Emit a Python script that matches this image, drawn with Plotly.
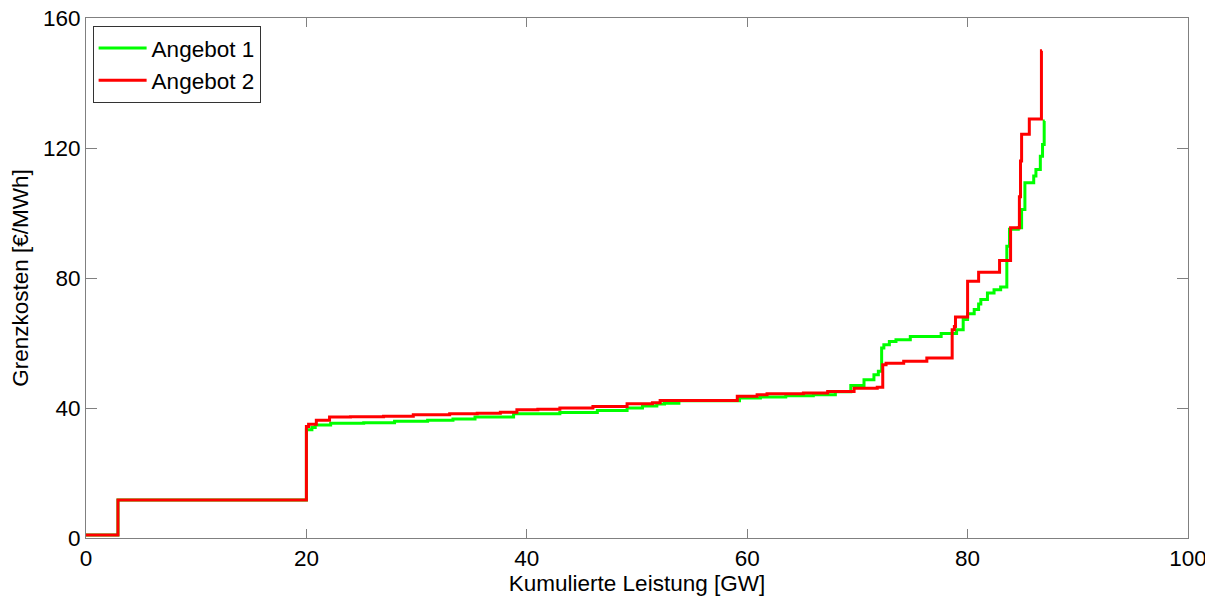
import plotly.graph_objects as go

# Angebot 1 (green) step curve: cumulative capacity [GW] and marginal cost [€/MWh]
a1_x = [0, 2.9, 20.0, 20.5, 20.8, 22.2, 25.2, 28.0, 31.0, 33.3, 35.3, 38.8, 43.0, 46.4,
        49.1, 50.5, 51.8, 52.5, 53.8, 59.3, 61.2, 63.5, 66.0, 68.0, 69.4, 70.6, 71.5,
        71.9, 72.2, 72.4, 72.9, 73.5, 74.8, 77.6, 79.0, 79.6, 80.0, 80.6, 81.0, 81.2,
        81.8, 82.4, 83.0, 83.56, 83.8, 84.6, 84.9, 85.2, 86.0, 86.2, 86.6, 86.8, 86.95, 87.0]
a1_y = [0.9, 11.7, 33.3, 34.0, 34.8, 35.3, 35.5, 35.9, 36.2, 36.6, 37.2, 38.2, 38.6, 39.2,
        40.0, 40.6, 41.2, 41.5, 42.2, 43.1, 43.4, 43.8, 44.1, 45.0, 46.9, 48.7, 50.2,
        51.3, 58.5, 59.5, 60.5, 61.0, 62.0, 62.9, 64.1, 67.2, 69.0, 70.3, 72.0, 73.4,
        75.4, 76.4, 77.2, 89.8, 95.0, 95.5, 101.1, 109.3, 111.4, 113.4, 117.5, 121.1, 128.3, 128.3]

# Angebot 2 (red)
a2_x = [0, 2.9, 20.0, 20.2, 20.9, 22.1, 24.0, 27.0, 29.7, 33.0, 35.5, 37.6, 39.1, 41.0,
        43.0, 46.0, 49.1, 51.4, 52.1, 59.1, 60.9, 61.8, 65.1, 67.3, 69.7, 71.8, 72.3,
        72.6, 74.2, 76.3, 78.6, 78.8, 78.9, 80.0, 81.0, 82.9, 83.9, 84.7, 84.8, 84.9,
        85.6, 86.7, 86.75]
a2_y = [0.9, 11.7, 34.3, 35.0, 36.2, 37.2, 37.3, 37.5, 37.9, 38.2, 38.4, 38.7, 39.5, 39.6,
        40.0, 40.5, 41.3, 41.6, 42.3, 43.6, 44.1, 44.4, 44.6, 45.1, 46.1, 46.4, 53.3,
        53.8, 54.4, 55.4, 64.1, 65.1, 68.0, 79.0, 81.8, 85.4, 95.5, 105.0, 116.0, 124.2,
        128.9, 149.9, 149.9]

x_ticks = [0, 20, 40, 60, 80, 100]
y_ticks = [0, 40, 80, 120, 160]

FONT = "Liberation Sans, Arial, sans-serif"
FS = 22.5

fig = go.Figure()
fig.add_trace(go.Scatter(x=a1_x, y=a1_y, mode="lines", name="Angebot 1",
                         line=dict(color="#00ff00", width=3, shape="hv")))
fig.add_trace(go.Scatter(x=a2_x, y=a2_y, mode="lines", name="Angebot 2",
                         line=dict(color="#ff0000", width=3, shape="hv")))

axis_common = dict(showgrid=False, zeroline=False, showline=True, linecolor="#808080",
                   linewidth=1, mirror="allticks", ticks="inside", tickcolor="#808080",
                   tickwidth=1, automargin=False, ticklabeloverflow="allow",
                   tickfont=dict(size=FS, color="black", family=FONT))

fig.update_layout(
    width=1205, height=589,
    margin=dict(l=78, r=25, t=10, b=59, autoexpand=False),
    paper_bgcolor="white", plot_bgcolor="white",
    font=dict(family=FONT, size=FS, color="black"),
    xaxis=dict(range=[0, 100], tickvals=x_ticks, ticklen=9,
               title=dict(text="Kumulierte Leistung [GW]", font=dict(size=FS), standoff=0),
               **axis_common),
    yaxis=dict(range=[0, 160], tickvals=y_ticks, ticklen=11,
               title=dict(text="Grenzkosten [€/MWh]", font=dict(size=FS), standoff=8),
               **axis_common),
    legend=dict(x=0.006, y=0.985, xanchor="left", yanchor="top",
                bgcolor="white", bordercolor="#333333", borderwidth=1,
                font=dict(size=FS, family=FONT), tracegroupgap=0, itemwidth=48),
    showlegend=True,
)

fig.write_html("out.html")
